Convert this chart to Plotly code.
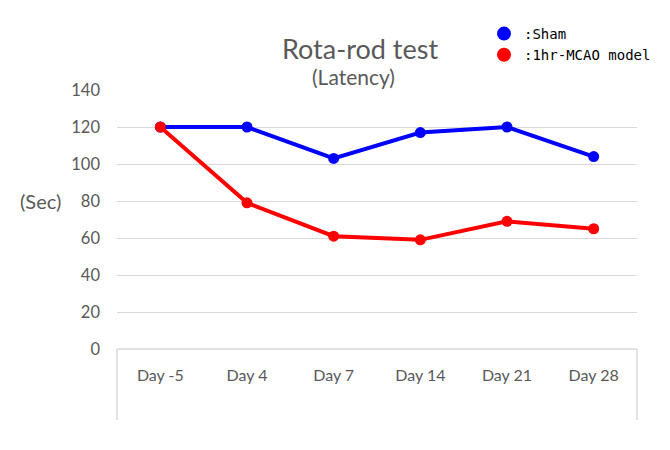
import plotly.graph_objects as go

categories = ["Day -5", "Day 4", "Day 7", "Day 14", "Day 21", "Day 28"]
sham = [120, 120, 103, 117, 120, 104]
mcao = [120, 79, 61, 59, 69, 65]
y_ticks = [0, 20, 40, 60, 80, 100, 120, 140]

gray = "#595959"
FONT = "Lato"
fig = go.Figure()
fig.add_trace(go.Scatter(x=categories, y=sham, mode="lines+markers",
                         line=dict(color="#0000ff", width=4),
                         marker=dict(color="#0000ff", size=11), showlegend=False))
fig.add_trace(go.Scatter(x=categories, y=mcao, mode="lines+markers",
                         line=dict(color="#ff0000", width=4),
                         marker=dict(color="#ff0000", size=11), showlegend=False))
# legend entries
fig.add_trace(go.Scatter(x=[None], y=[None], mode="markers", name=":Sham",
                         marker=dict(color="#0000ff", size=14)))
fig.add_trace(go.Scatter(x=[None], y=[None], mode="markers", name=":1hr-MCAO model",
                         marker=dict(color="#ff0000", size=14)))

pw, ph = 670 - 117 - 33, 450 - 90 - 101

fig.update_layout(
    width=670, height=450,
    margin=dict(l=117, r=33, t=90, b=101, autoexpand=False),
    plot_bgcolor="white", paper_bgcolor="white",
    font=dict(family=FONT, color=gray, size=16),
    showlegend=True,
    legend=dict(x=(484 - 117) / pw, y=(349 - 18) / ph, xanchor="left", yanchor="top",
                font=dict(family="DejaVu Sans Mono", size=14, color="#000000"),
                tracegroupgap=0, itemwidth=30, bgcolor="rgba(0,0,0,0)"),
    xaxis=dict(type="category", range=[-0.5, 5.5], showgrid=False, showline=False,
               ticks="", ticklabelstandoff=15,
               tickfont=dict(family=FONT, size=16, color=gray)),
    yaxis=dict(range=[0, 140], tickvals=y_ticks, showgrid=True, gridcolor="#d9d9d9",
               gridwidth=1, zeroline=False, showline=False, ticks="",
               ticklabelstandoff=16, tickfont=dict(family=FONT, size=16.5, color=gray)),
)

def ann(text, px, py, size):
    fig.add_annotation(text=text, x=(px - 117) / pw, y=(349 - py) / ph,
                       xref="paper", yref="paper", showarrow=False,
                       xanchor="center", yanchor="middle",
                       font=dict(family=FONT, size=size, color=gray))

ann("Rota-rod test", 360, 48, 27)
ann("(Latency)", 353, 76, 21)
ann("(Sec)", 40, 201, 20)

# box lines below the x axis (Excel-style)
box_bottom = -(420 - 349) / ph
for x0, x1, y0, y1 in [(0, 1, 0, 0), (0, 0, 0, box_bottom), (1, 1, 0, box_bottom)]:
    fig.add_shape(type="line", xref="paper", yref="paper", x0=x0, x1=x1, y0=y0, y1=y1,
                  line=dict(color="#d9d9d9", width=1.5))

fig.write_html("out.html", config={"displayModeBar": False},
               post_script="document.body.style.margin='0';document.body.style.padding='0';")
